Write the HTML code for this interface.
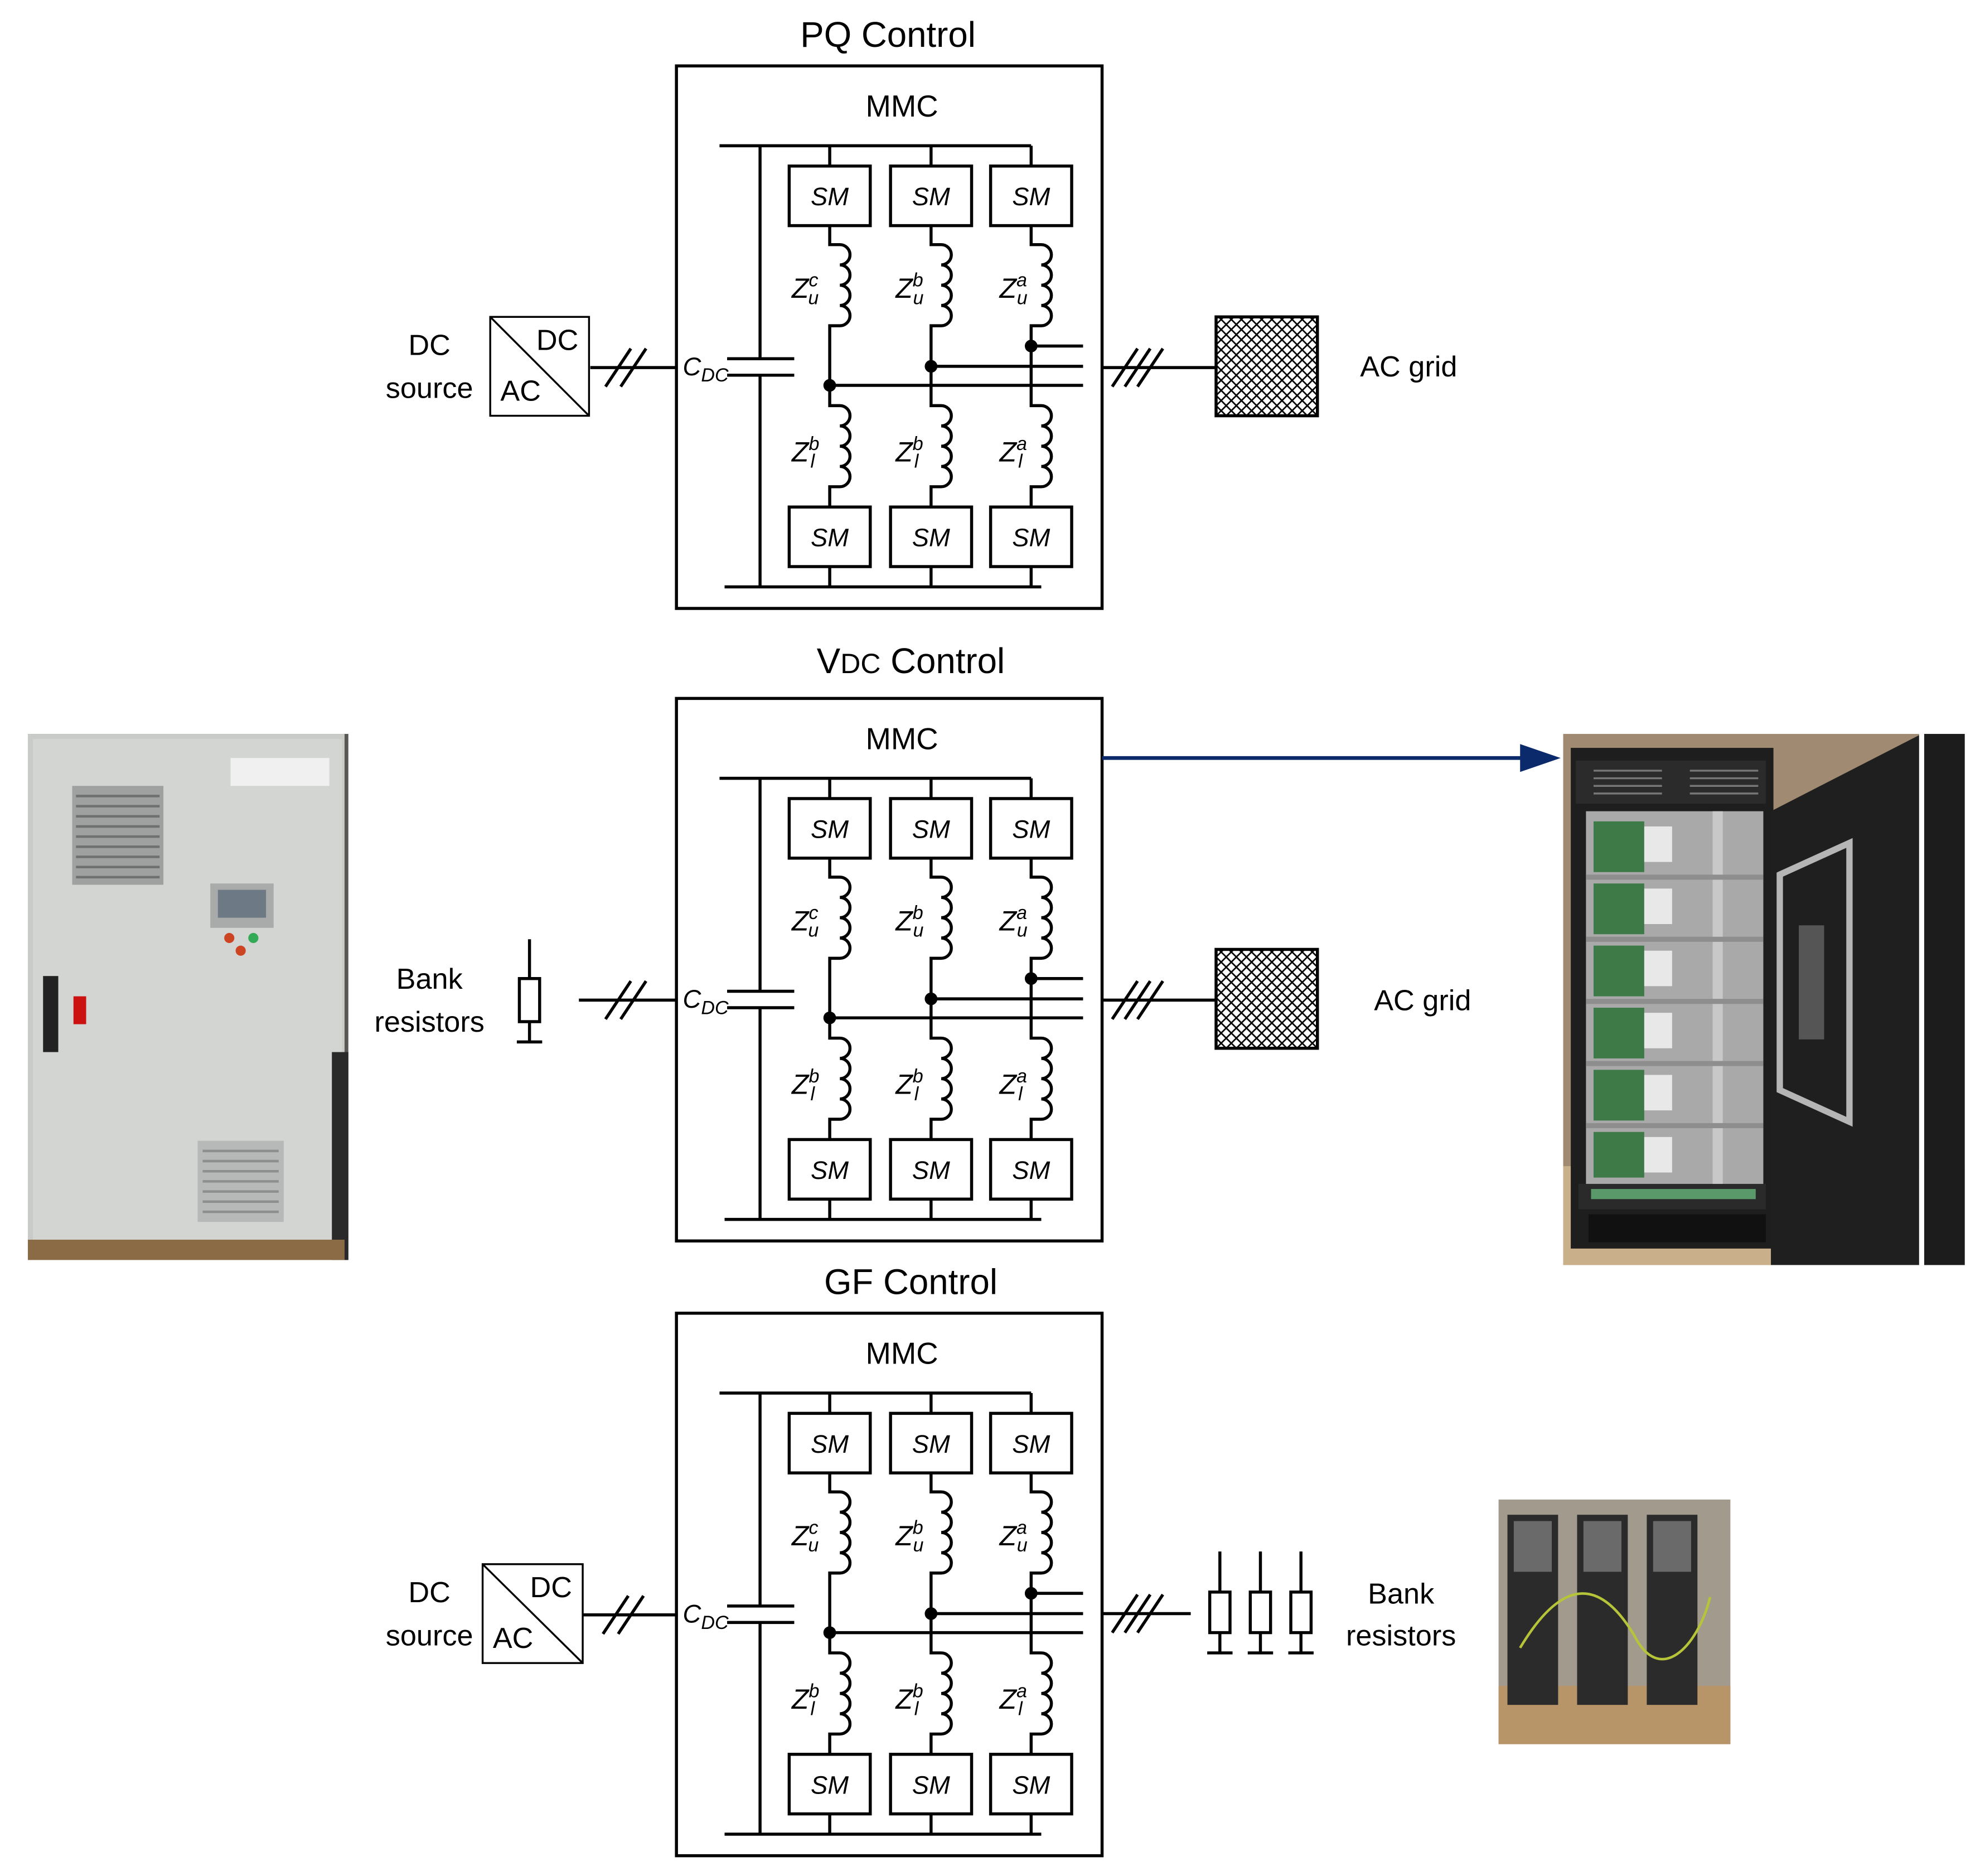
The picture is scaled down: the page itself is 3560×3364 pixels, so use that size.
<!DOCTYPE html>
<html><head><meta charset="utf-8"><style>
html,body{margin:0;padding:0;background:#fff;}
svg{display:block;}
text{font-family:"Liberation Sans",sans-serif;fill:#000;}
.sm{font-style:italic;font-size:20px;text-anchor:middle;}
.z{font-style:italic;font-size:22px;}
.s{font-size:15px;}
.lb{font-size:23px;}
.tt{font-size:28px;text-anchor:middle;}
</style></head><body>
<svg width="3560" height="3364" viewBox="0 0 1567 1480" preserveAspectRatio="none" xmlns="http://www.w3.org/2000/svg">
<defs>
<pattern id="hx" width="8" height="8" patternUnits="userSpaceOnUse">
<path d="M0,0 L8,8 M8,0 L0,8" stroke="#000" stroke-width="1.2"/>
</pattern>
</defs>
<rect width="1567" height="1480" fill="#fff"/>

<!-- BLOCK 1 -->
<g fill="none" stroke="#000" stroke-width="2.4">
<rect x="534" y="52" width="336" height="428"/>
<path d="M568,115 H814 M572,463 H822 M600,115 V283 M574,283 H627 M574,296 H627 M600,296 V463"/>
<path d="M655,115V131 M735,115V131 M814,115V131 M655,447V463 M735,447V463 M814,447V463"/>
<rect x="623" y="131" width="64" height="47"/><rect x="703" y="131" width="64" height="47"/><rect x="782" y="131" width="64" height="47"/>
<rect x="623" y="400" width="64" height="47"/><rect x="703" y="400" width="64" height="47"/><rect x="782" y="400" width="64" height="47"/>
<path d="M655,178V193H663a8,8 0 0 1 0,16a8,8 0 0 1 0,16a8,8 0 0 1 0,16a8,8 0 0 1 0,16H655V320H663a8,8 0 0 1 0,16a8,8 0 0 1 0,16a8,8 0 0 1 0,16a8,8 0 0 1 0,16H655V400"/>
<path d="M735,178V193H743a8,8 0 0 1 0,16a8,8 0 0 1 0,16a8,8 0 0 1 0,16a8,8 0 0 1 0,16H735V320H743a8,8 0 0 1 0,16a8,8 0 0 1 0,16a8,8 0 0 1 0,16a8,8 0 0 1 0,16H735V400"/>
<path d="M814,178V193H822a8,8 0 0 1 0,16a8,8 0 0 1 0,16a8,8 0 0 1 0,16a8,8 0 0 1 0,16H814V320H822a8,8 0 0 1 0,16a8,8 0 0 1 0,16a8,8 0 0 1 0,16a8,8 0 0 1 0,16H814V400"/>
<path d="M655,304H855 M735,289H855 M814,273H855"/>
<path d="M870,290H960 M878,305L898,275 M888,305L908,275 M898,305L918,275"/>
<rect x="960" y="250" width="80" height="78" fill="url(#hx)"/>
</g>
<g fill="#000"><circle cx="655" cy="304" r="5"/><circle cx="735" cy="289" r="5"/><circle cx="814" cy="273" r="5"/></g>
<text x="712" y="92" class="tt" style="font-size:24px">MMC</text>
<text x="701" y="37" class="tt">PQ Control</text>
<text x="655" y="162" class="sm">SM</text><text x="735" y="162" class="sm">SM</text><text x="814" y="162" class="sm">SM</text>
<text x="655" y="431" class="sm">SM</text><text x="735" y="431" class="sm">SM</text><text x="814" y="431" class="sm">SM</text>
<text x="625" y="235" class="z">Z<tspan class="s" dx="0" dy="-9">c</tspan><tspan class="s" dx="-8" dy="14">u</tspan></text>
<text x="707" y="235" class="z">Z<tspan class="s" dx="0" dy="-9">b</tspan><tspan class="s" dx="-8" dy="14">u</tspan></text>
<text x="789" y="235" class="z">Z<tspan class="s" dx="0" dy="-9">a</tspan><tspan class="s" dx="-8" dy="14">u</tspan></text>
<text x="625" y="364" class="z">Z<tspan class="s" dx="0" dy="-9">b</tspan><tspan class="s" dx="-7" dy="14">l</tspan></text>
<text x="707" y="364" class="z">Z<tspan class="s" dx="0" dy="-9">b</tspan><tspan class="s" dx="-7" dy="14">l</tspan></text>
<text x="789" y="364" class="z">Z<tspan class="s" dx="0" dy="-9">a</tspan><tspan class="s" dx="-7" dy="14">l</tspan></text>
<text x="539" y="296" class="z" style="font-size:20px">C<tspan class="s" dy="5">DC</tspan></text>
<g fill="none" stroke="#000" stroke-width="2.4">
<rect x="387" y="250" width="78" height="78" stroke-width="1.5"/><path d="M387,250L465,328" stroke-width="1.5"/>
<path d="M466,290H534 M478,305L498,275 M490,305L510,275"/>
</g>
<text x="440" y="276" class="lb" text-anchor="middle">DC</text>
<text x="411" y="316" class="lb" text-anchor="middle">AC</text>
<text x="339" y="280" class="lb" text-anchor="middle">DC</text>
<text x="339" y="314" class="lb" text-anchor="middle">source</text>
<text x="1112" y="297" class="lb" text-anchor="middle">AC grid</text>

<!-- BLOCK 2 -->
<g transform="translate(0,499)">
<g fill="none" stroke="#000" stroke-width="2.4">
<rect x="534" y="52" width="336" height="428"/>
<path d="M568,115 H814 M572,463 H822 M600,115 V283 M574,283 H627 M574,296 H627 M600,296 V463"/>
<path d="M655,115V131 M735,115V131 M814,115V131 M655,447V463 M735,447V463 M814,447V463"/>
<rect x="623" y="131" width="64" height="47"/><rect x="703" y="131" width="64" height="47"/><rect x="782" y="131" width="64" height="47"/>
<rect x="623" y="400" width="64" height="47"/><rect x="703" y="400" width="64" height="47"/><rect x="782" y="400" width="64" height="47"/>
<path d="M655,178V193H663a8,8 0 0 1 0,16a8,8 0 0 1 0,16a8,8 0 0 1 0,16a8,8 0 0 1 0,16H655V320H663a8,8 0 0 1 0,16a8,8 0 0 1 0,16a8,8 0 0 1 0,16a8,8 0 0 1 0,16H655V400"/>
<path d="M735,178V193H743a8,8 0 0 1 0,16a8,8 0 0 1 0,16a8,8 0 0 1 0,16a8,8 0 0 1 0,16H735V320H743a8,8 0 0 1 0,16a8,8 0 0 1 0,16a8,8 0 0 1 0,16a8,8 0 0 1 0,16H735V400"/>
<path d="M814,178V193H822a8,8 0 0 1 0,16a8,8 0 0 1 0,16a8,8 0 0 1 0,16a8,8 0 0 1 0,16H814V320H822a8,8 0 0 1 0,16a8,8 0 0 1 0,16a8,8 0 0 1 0,16a8,8 0 0 1 0,16H814V400"/>
<path d="M655,304H855 M735,289H855 M814,273H855"/>
<path d="M870,290H960 M878,305L898,275 M888,305L908,275 M898,305L918,275"/>
<rect x="960" y="250" width="80" height="78" fill="url(#hx)"/>
<path d="M457,290H534 M478,305L498,275 M490,305L510,275"/>
<path d="M418,242V273 M418,307V323 M408,323H428"/>
<rect x="410" y="273" width="16" height="34"/>
</g>
<g fill="#000"><circle cx="655" cy="304" r="5"/><circle cx="735" cy="289" r="5"/><circle cx="814" cy="273" r="5"/></g>
<text x="712" y="92" class="tt" style="font-size:24px">MMC</text>
<text x="655" y="162" class="sm">SM</text><text x="735" y="162" class="sm">SM</text><text x="814" y="162" class="sm">SM</text>
<text x="655" y="431" class="sm">SM</text><text x="735" y="431" class="sm">SM</text><text x="814" y="431" class="sm">SM</text>
<text x="625" y="235" class="z">Z<tspan class="s" dx="0" dy="-9">c</tspan><tspan class="s" dx="-8" dy="14">u</tspan></text>
<text x="707" y="235" class="z">Z<tspan class="s" dx="0" dy="-9">b</tspan><tspan class="s" dx="-8" dy="14">u</tspan></text>
<text x="789" y="235" class="z">Z<tspan class="s" dx="0" dy="-9">a</tspan><tspan class="s" dx="-8" dy="14">u</tspan></text>
<text x="625" y="364" class="z">Z<tspan class="s" dx="0" dy="-9">b</tspan><tspan class="s" dx="-7" dy="14">l</tspan></text>
<text x="707" y="364" class="z">Z<tspan class="s" dx="0" dy="-9">b</tspan><tspan class="s" dx="-7" dy="14">l</tspan></text>
<text x="789" y="364" class="z">Z<tspan class="s" dx="0" dy="-9">a</tspan><tspan class="s" dx="-7" dy="14">l</tspan></text>
<text x="539" y="296" class="z" style="font-size:20px">C<tspan class="s" dy="5">DC</tspan></text>
<text x="339" y="281" class="lb" text-anchor="middle">Bank</text>
<text x="339" y="315" class="lb" text-anchor="middle">resistors</text>
<text x="1123" y="298" class="lb" text-anchor="middle">AC grid</text>
</g>
<text x="719" y="531" class="tt">V<tspan style="font-size:22px">DC</tspan> Control</text>
<path d="M870,598H1202" stroke="#0b2a6b" stroke-width="3"/>
<path d="M1200,587L1232,598L1200,609Z" fill="#0b2a6b"/>

<!-- BLOCK 3 -->
<g transform="translate(0,984)">
<g fill="none" stroke="#000" stroke-width="2.4">
<rect x="534" y="52" width="336" height="428"/>
<path d="M568,115 H814 M572,463 H822 M600,115 V283 M574,283 H627 M574,296 H627 M600,296 V463"/>
<path d="M655,115V131 M735,115V131 M814,115V131 M655,447V463 M735,447V463 M814,447V463"/>
<rect x="623" y="131" width="64" height="47"/><rect x="703" y="131" width="64" height="47"/><rect x="782" y="131" width="64" height="47"/>
<rect x="623" y="400" width="64" height="47"/><rect x="703" y="400" width="64" height="47"/><rect x="782" y="400" width="64" height="47"/>
<path d="M655,178V193H663a8,8 0 0 1 0,16a8,8 0 0 1 0,16a8,8 0 0 1 0,16a8,8 0 0 1 0,16H655V320H663a8,8 0 0 1 0,16a8,8 0 0 1 0,16a8,8 0 0 1 0,16a8,8 0 0 1 0,16H655V400"/>
<path d="M735,178V193H743a8,8 0 0 1 0,16a8,8 0 0 1 0,16a8,8 0 0 1 0,16a8,8 0 0 1 0,16H735V320H743a8,8 0 0 1 0,16a8,8 0 0 1 0,16a8,8 0 0 1 0,16a8,8 0 0 1 0,16H735V400"/>
<path d="M814,178V193H822a8,8 0 0 1 0,16a8,8 0 0 1 0,16a8,8 0 0 1 0,16a8,8 0 0 1 0,16H814V320H822a8,8 0 0 1 0,16a8,8 0 0 1 0,16a8,8 0 0 1 0,16a8,8 0 0 1 0,16H814V400"/>
<path d="M655,304H855 M735,289H855 M814,273H855"/>
<path d="M870,289H940 M878,304L898,274 M888,304L908,274 M898,304L918,274"/>
<path d="M963,240V272 M963,304V320 M953,320H973 M995,240V272 M995,304V320 M985,320H1005 M1027,240V272 M1027,304V320 M1017,320H1037"/>
<rect x="955" y="272" width="16" height="32"/><rect x="987" y="272" width="16" height="32"/><rect x="1019" y="272" width="16" height="32"/>
<rect x="381" y="250" width="79" height="78" stroke-width="1.5"/><path d="M381,250L460,328" stroke-width="1.5"/>
<path d="M460,290H534 M476,305L496,275 M488,305L508,275"/>
</g>
<g fill="#000"><circle cx="655" cy="304" r="5"/><circle cx="735" cy="289" r="5"/><circle cx="814" cy="273" r="5"/></g>
<text x="712" y="92" class="tt" style="font-size:24px">MMC</text>
<text x="655" y="162" class="sm">SM</text><text x="735" y="162" class="sm">SM</text><text x="814" y="162" class="sm">SM</text>
<text x="655" y="431" class="sm">SM</text><text x="735" y="431" class="sm">SM</text><text x="814" y="431" class="sm">SM</text>
<text x="625" y="235" class="z">Z<tspan class="s" dx="0" dy="-9">c</tspan><tspan class="s" dx="-8" dy="14">u</tspan></text>
<text x="707" y="235" class="z">Z<tspan class="s" dx="0" dy="-9">b</tspan><tspan class="s" dx="-8" dy="14">u</tspan></text>
<text x="789" y="235" class="z">Z<tspan class="s" dx="0" dy="-9">a</tspan><tspan class="s" dx="-8" dy="14">u</tspan></text>
<text x="625" y="364" class="z">Z<tspan class="s" dx="0" dy="-9">b</tspan><tspan class="s" dx="-7" dy="14">l</tspan></text>
<text x="707" y="364" class="z">Z<tspan class="s" dx="0" dy="-9">b</tspan><tspan class="s" dx="-7" dy="14">l</tspan></text>
<text x="789" y="364" class="z">Z<tspan class="s" dx="0" dy="-9">a</tspan><tspan class="s" dx="-7" dy="14">l</tspan></text>
<text x="539" y="296" class="z" style="font-size:20px">C<tspan class="s" dy="5">DC</tspan></text>
<text x="435" y="276" class="lb" text-anchor="middle">DC</text>
<text x="405" y="316" class="lb" text-anchor="middle">AC</text>
<text x="339" y="280" class="lb" text-anchor="middle">DC</text>
<text x="339" y="314" class="lb" text-anchor="middle">source</text>
<text x="1106" y="281" class="lb" text-anchor="middle">Bank</text>
<text x="1106" y="314" class="lb" text-anchor="middle">resistors</text>
</g>
<text x="719" y="1021" class="tt">GF Control</text>

<!-- Left photo: grey cabinet -->
<rect x="22" y="579" width="253" height="415" fill="#5a5855"/>
<rect x="22" y="579" width="250" height="415" fill="#c9cbc9"/>
<rect x="26" y="583" width="244" height="405" fill="#d3d5d3"/>
<rect x="262" y="830" width="13" height="164" fill="#2a2a2a"/>
<rect x="22" y="978" width="250" height="16" fill="#8a6b45"/>
<rect x="57" y="620" width="72" height="78" fill="#9fa1a0"/>
<g stroke="#6f706f" stroke-width="2"><path d="M60,628H126M60,636H126M60,644H126M60,652H126M60,660H126M60,668H126M60,676H126M60,684H126M60,692H126"/></g>
<rect x="156" y="900" width="68" height="64" fill="#b7b9b8"/>
<g stroke="#8d8f8e" stroke-width="2"><path d="M160,908H220M160,916H220M160,924H220M160,932H220M160,940H220M160,948H220M160,956H220"/></g>
<rect x="166" y="697" width="50" height="35" fill="#a9abaa"/><rect x="172" y="702" width="38" height="22" fill="#6d7a85"/>
<circle cx="181" cy="740" r="4" fill="#c42"/><circle cx="200" cy="740" r="4" fill="#3a5"/><circle cx="190" cy="750" r="4" fill="#c42"/>
<rect x="182" y="598" width="78" height="22" fill="#f0f0f0"/>
<rect x="34" y="770" width="12" height="60" fill="#222"/><rect x="58" y="786" width="10" height="22" fill="#c11"/>

<!-- Right photo: open cabinet -->
<rect x="1234" y="579" width="317" height="419" fill="#a08a72"/>
<rect x="1234" y="920" width="317" height="78" fill="#c9b08a"/>
<rect x="1240" y="590" width="160" height="395" fill="#1e1e1e"/>
<rect x="1244" y="600" width="150" height="34" fill="#2b2b2b"/>
<g stroke="#777" stroke-width="1.5"><path d="M1258,608H1312M1258,614H1312M1258,620H1312M1258,626H1312M1334,608H1388M1334,614H1388M1334,620H1388M1334,626H1388"/></g>
<rect x="1252" y="640" width="140" height="294" fill="#a9a9a9"/>
<g fill="#3d7a48"><rect x="1258" y="648" width="40" height="40"/><rect x="1258" y="697" width="40" height="40"/><rect x="1258" y="746" width="40" height="40"/><rect x="1258" y="795" width="40" height="40"/><rect x="1258" y="844" width="40" height="40"/><rect x="1258" y="893" width="40" height="36"/></g>
<g fill="#e8e8e8"><rect x="1298" y="652" width="22" height="28"/><rect x="1298" y="701" width="22" height="28"/><rect x="1298" y="750" width="22" height="28"/><rect x="1298" y="799" width="22" height="28"/><rect x="1298" y="848" width="22" height="28"/><rect x="1298" y="897" width="22" height="28"/></g>
<rect x="1352" y="640" width="8" height="294" fill="#c8c8c8"/>
<g stroke="#8e8e8e" stroke-width="4"><path d="M1252,692H1392M1252,741H1392M1252,790H1392M1252,839H1392M1252,888H1392"/></g>
<rect x="1246" y="934" width="148" height="20" fill="#2a2a2a"/><rect x="1256" y="938" width="130" height="8" fill="#5a9a6a"/>
<rect x="1254" y="958" width="140" height="22" fill="#111"/>
<path d="M1398,640L1515,580V998H1398Z" fill="#1f1f1f"/>
<path d="M1405,690L1460,665V885L1405,860Z" fill="none" stroke="#b5b5b5" stroke-width="5"/>
<g fill="#555"><rect x="1420" y="730" width="20" height="90"/></g>
<rect x="1515" y="579" width="4" height="419" fill="#fff"/>
<rect x="1519" y="579" width="32" height="419" fill="#1c1c1c"/>

<!-- Bottom-right photo: SM stacks -->
<rect x="1183" y="1183" width="183" height="193" fill="#a29a8d"/>
<rect x="1183" y="1330" width="183" height="46" fill="#b89568"/>
<g fill="#2b2b2b"><rect x="1190" y="1195" width="40" height="150"/><rect x="1245" y="1195" width="40" height="150"/><rect x="1300" y="1195" width="40" height="150"/></g>
<g fill="#6a6a6a"><rect x="1195" y="1200" width="30" height="40"/><rect x="1250" y="1200" width="30" height="40"/><rect x="1305" y="1200" width="30" height="40"/></g>
<path d="M1200,1300C1230,1250 1260,1240 1290,1290 C1310,1330 1340,1300 1350,1260" fill="none" stroke="#b6c43a" stroke-width="2"/>
</svg>
</body></html>
